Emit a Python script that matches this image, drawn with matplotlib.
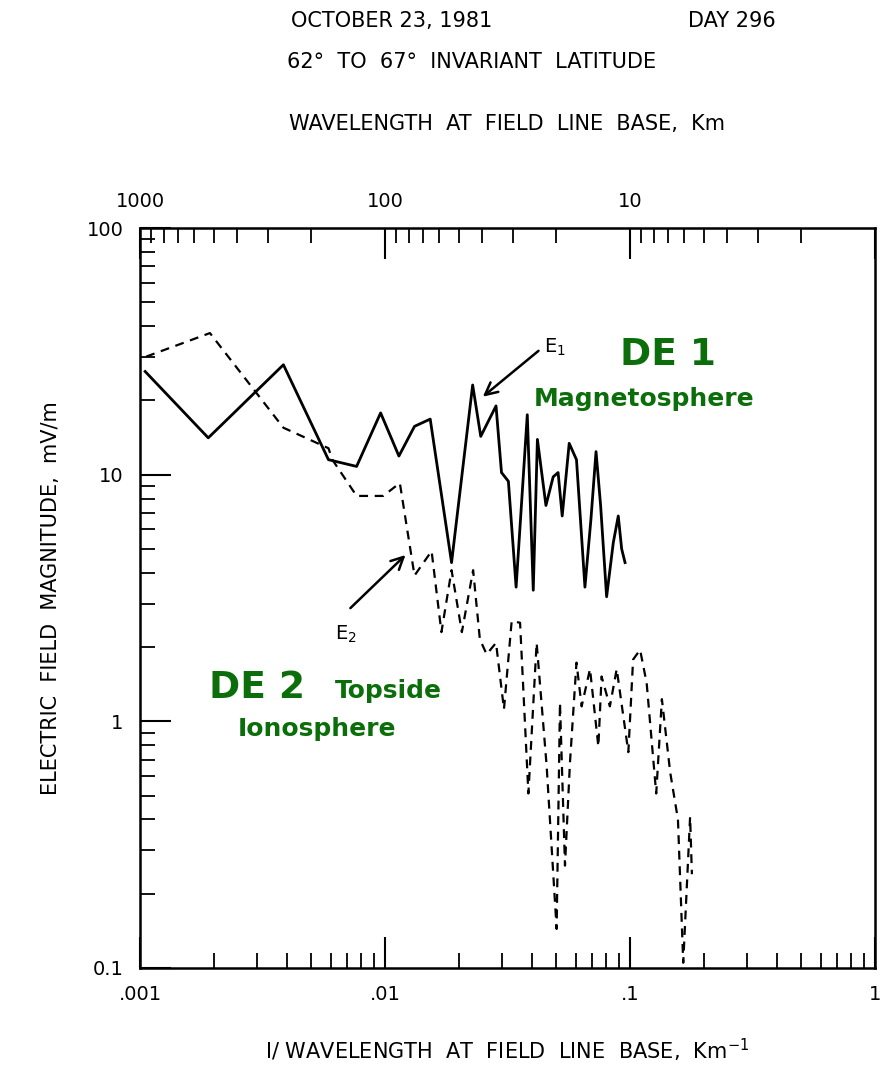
import matplotlib.pyplot as plt
from matplotlib.ticker import FixedLocator, LogLocator, NullFormatter

# E1 (DE 1, magnetosphere) - solid
e1_k = [0.00105, 0.0019, 0.00385, 0.00588, 0.00766, 0.0096, 0.0114, 0.0132, 0.0153,
        0.0187, 0.0228, 0.0246, 0.0284, 0.0299, 0.0319, 0.0343, 0.0381, 0.0403, 0.0419,
        0.0454, 0.0486, 0.0509, 0.0529, 0.0565, 0.0605, 0.0655, 0.0693, 0.0727, 0.0759,
        0.0803, 0.0855, 0.0896, 0.0925, 0.0955]
e1_v = [26.2, 14.1, 27.9, 11.5, 10.8, 17.8, 11.9, 15.7, 16.8,
        4.4, 23.1, 14.3, 19.0, 10.2, 9.4, 3.5, 17.5, 3.4, 13.9,
        7.5, 9.8, 10.2, 6.8, 13.4, 11.5, 3.5, 6.6, 12.4, 7.5,
        3.2, 5.3, 6.8, 5.0, 4.4]

# E2 (DE 2, topside ionosphere) - dashed
e2_k = [0.00106, 0.00193, 0.00385, 0.00588, 0.0061, 0.00766, 0.00984, 0.0115, 0.0132,
        0.0155, 0.0170, 0.0187, 0.0206, 0.0229, 0.0244, 0.0260, 0.0284, 0.0306, 0.0329,
        0.0356, 0.0385, 0.0416, 0.0457, 0.0502, 0.0518, 0.0543, 0.0569, 0.0605, 0.0635,
        0.0687, 0.0743, 0.0766, 0.0828, 0.0883, 0.0985, 0.103, 0.110, 0.117, 0.128,
        0.135, 0.146, 0.157, 0.165, 0.176, 0.179]
e2_v = [30.1, 37.5, 15.5, 12.8, 11.5, 8.2, 8.2, 9.25, 3.9,
        4.9, 2.3, 4.1, 2.3, 4.1, 2.15, 1.87, 2.08, 1.12, 2.55,
        2.51, 0.51, 2.08, 0.66, 0.144, 1.19, 0.26, 0.68, 1.73, 1.15,
        1.63, 0.79, 1.52, 1.15, 1.63, 0.75, 1.78, 1.95, 1.43, 0.51,
        1.23, 0.62, 0.40, 0.105, 0.41, 0.24]

x_ticks = [0.001, 0.01, 0.1, 1]
x_labels = [".001", ".01", ".1", "1"]
y_ticks = [0.1, 1, 10, 100]
y_labels = ["0.1", "1", "10", "100"]
wl_ticks = [1000, 100, 10, 1]
wl_labels = ["1000", "100", "10", ""]

green = "#0b6e0b"
fig = plt.figure(figsize=(8.82, 10.74), dpi=100)
ax = fig.add_axes([0.1587, 0.0987, 0.8333, 0.689])
ax.plot(e1_k, e1_v, color="black", lw=2)
ax.plot(e2_k, e2_v, color="black", lw=1.6, ls=(0, (4, 3)))
ax.set_xscale("log")
ax.set_yscale("log")
ax.set_xlim(0.001, 1)
ax.set_ylim(0.1, 100)
for s in ax.spines.values():
    s.set_linewidth(1.8)

ax.xaxis.set_major_locator(FixedLocator(x_ticks))
ax.set_xticklabels(x_labels)
ax.yaxis.set_major_locator(FixedLocator(y_ticks))
ax.set_yticklabels(y_labels)
ax.xaxis.set_minor_locator(LogLocator(subs=range(2, 10)))
ax.yaxis.set_minor_locator(LogLocator(subs=range(2, 10)))
ax.xaxis.set_minor_formatter(NullFormatter())
ax.yaxis.set_minor_formatter(NullFormatter())
ax.tick_params(which="major", direction="in", length=22, width=1.5, labelsize=14, pad=12)
ax.tick_params(which="minor", direction="in", length=11, width=1.3)
ax.tick_params(axis="x", top=False)

top = ax.secondary_xaxis("top", functions=(lambda x: 1 / x, lambda x: 1 / x))
top.xaxis.set_major_locator(FixedLocator(wl_ticks))
top.set_xticklabels(wl_labels)
top.xaxis.set_minor_locator(LogLocator(subs=range(2, 10)))
top.xaxis.set_minor_formatter(NullFormatter())
top.tick_params(which="major", direction="in", length=22, width=1.5, labelsize=14, pad=12)
top.tick_params(which="minor", direction="in", length=11, width=1.3)
top.set_xlabel("WAVELENGTH  AT  FIELD  LINE  BASE,  Km", fontsize=15, labelpad=45)

ax.set_xlabel("I/ WAVELENGTH  AT  FIELD  LINE  BASE,  Km$^{-1}$", fontsize=15, labelpad=24)
ax.set_ylabel("ELECTRIC  FIELD  MAGNITUDE,  mV/m", fontsize=15, labelpad=18)

fig.text(0.33, 0.975, "OCTOBER 23, 1981", fontsize=15)
fig.text(0.78, 0.975, "DAY 296", fontsize=15)
fig.text(0.325, 0.937, "62°  TO  67°  INVARIANT  LATITUDE", fontsize=15)

# annotations (figure fractions)
fig.text(0.703, 0.66, "DE 1", fontsize=27, fontweight="bold", color=green)
fig.text(0.605, 0.622, "Magnetosphere", fontsize=18, fontweight="bold", color=green)
fig.text(0.237, 0.35, "DE 2", fontsize=27, fontweight="bold", color=green)
fig.text(0.38, 0.35, "Topside", fontsize=18, fontweight="bold", color=green)
fig.text(0.27, 0.315, "Ionosphere", fontsize=18, fontweight="bold", color=green)
fig.text(0.617, 0.672, "E$_1$", fontsize=14)
fig.text(0.38, 0.404, "E$_2$", fontsize=14)
fig.add_artist(plt.Annotation("", xy=(0.545, 0.629), xytext=(0.613, 0.675),
                              xycoords="figure fraction",
                              arrowprops=dict(arrowstyle="->", lw=1.8, color="black", mutation_scale=22)))
fig.add_artist(plt.Annotation("", xy=(0.462, 0.485), xytext=(0.395, 0.432),
                              xycoords="figure fraction",
                              arrowprops=dict(arrowstyle="->", lw=1.8, color="black", mutation_scale=22)))

fig.savefig("out.png", dpi=100)
